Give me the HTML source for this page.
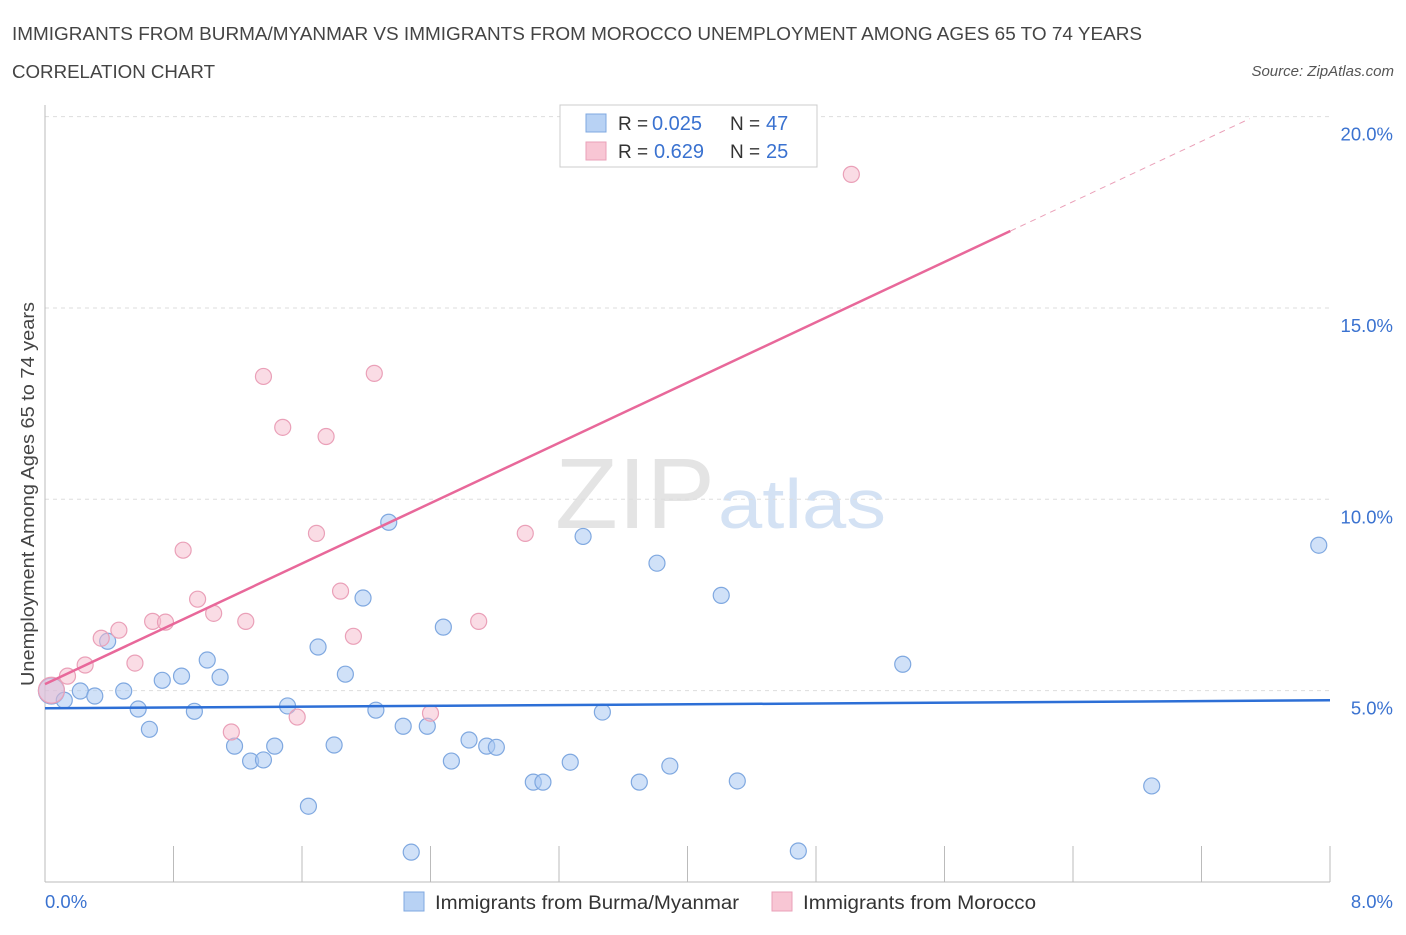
<!DOCTYPE html>
<html><head><meta charset="utf-8"><style>
body{margin:0;background:#fff;font-family:"Liberation Sans",sans-serif;}
svg text{font-family:"Liberation Sans",sans-serif;}
</style></head><body>
<svg id="chart" width="1406" height="930">
<text x="12" y="40" font-size="18.5" fill="#444" textLength="1130" lengthAdjust="spacingAndGlyphs">IMMIGRANTS FROM BURMA/MYANMAR VS IMMIGRANTS FROM MOROCCO UNEMPLOYMENT AMONG AGES 65 TO 74 YEARS</text>
<text x="12" y="78" font-size="18.5" fill="#444" textLength="203" lengthAdjust="spacingAndGlyphs">CORRELATION CHART</text>
<text x="1394" y="76" font-size="15" fill="#555" font-style="italic" text-anchor="end">Source: ZipAtlas.com</text>
<text x="635" y="528" font-size="100" fill="#e4e4e4" font-family="Liberation Serif" text-anchor="middle" textLength="160" lengthAdjust="spacingAndGlyphs">ZIP</text>
<text x="802" y="528" font-size="70" fill="#d4e2f4" text-anchor="middle" textLength="168" lengthAdjust="spacingAndGlyphs">atlas</text>
<g id="grid"></g>
<g id="axes"></g>
<g id="marks"></g>
<text transform="translate(34,494) rotate(-90)" font-size="18" fill="#444" text-anchor="middle" textLength="384" lengthAdjust="spacingAndGlyphs">Unemployment Among Ages 65 to 74 years</text>
<g>
<rect x="560" y="105" width="257" height="62" fill="#fff" stroke="#ccc"/>
<rect x="586" y="114" width="20" height="18" fill="#b8d2f4" stroke="#7fa8e0"/>
<rect x="586" y="142" width="20" height="18" fill="#f8c6d4" stroke="#eaa0b8"/>
<text x="618" y="130" font-size="19" fill="#333">R =</text>
<text x="652" y="130" font-size="20" fill="#3a72d0">0.025</text>
<text x="730" y="130" font-size="19" fill="#333">N =</text>
<text x="766" y="130" font-size="20" fill="#3a72d0">47</text>
<text x="618" y="158" font-size="19" fill="#333">R =</text>
<text x="654" y="158" font-size="20" fill="#3a72d0">0.629</text>
<text x="730" y="158" font-size="19" fill="#333">N =</text>
<text x="766" y="158" font-size="20" fill="#3a72d0">25</text>
</g>
<g>
<rect x="404" y="892" width="20" height="19" fill="#b8d2f4" stroke="#7fa8e0"/>
<text x="435" y="909" font-size="19" fill="#333" textLength="304" lengthAdjust="spacingAndGlyphs">Immigrants from Burma/Myanmar</text>
<rect x="772" y="892" width="20" height="19" fill="#f8c6d4" stroke="#eaa0b8"/>
<text x="803" y="909" font-size="19" fill="#333" textLength="233" lengthAdjust="spacingAndGlyphs">Immigrants from Morocco</text>
</g>
</svg>
<script>
const blueX=[0.04,0.12,0.22,0.31,0.39,0.49,0.58,0.65,0.73,0.85,0.93,1.01,1.09,1.18,1.28,1.36,1.43,1.51,1.64,1.70,1.80,1.87,1.98,2.06,2.14,2.23,2.28,2.38,2.48,2.53,2.64,2.75,2.81,3.04,3.10,3.27,3.35,3.47,3.70,3.81,3.89,4.21,4.31,4.69,5.34,6.89,7.93];
const blueY=[4.99,4.75,4.99,4.86,6.29,4.99,4.52,3.99,5.27,5.38,4.46,5.80,5.35,3.55,3.16,3.19,3.55,4.60,1.98,6.14,3.58,5.43,7.42,4.49,9.40,4.07,0.78,4.07,6.66,3.16,3.71,3.55,3.52,2.61,2.61,3.13,9.03,4.44,2.61,8.33,3.03,7.49,2.64,0.81,5.69,2.51,8.80];
const pinkX=[0.04,0.14,0.25,0.35,0.46,0.56,0.67,0.75,0.86,0.95,1.05,1.16,1.25,1.36,1.48,1.57,1.69,1.75,1.84,1.92,2.05,2.40,2.70,2.99,5.02];
const pinkY=[5.01,5.38,5.67,6.37,6.58,5.72,6.81,6.79,8.67,7.39,7.02,3.92,6.81,13.21,11.88,4.31,9.11,11.64,7.60,6.42,13.29,4.41,6.81,9.11,18.49];
const yTicks=[5,10,15,20];
const yTickLabels=["5.0%","10.0%","15.0%","20.0%"];
const xTickLabels=["0.0%","8.0%"];
const blueTrend=[4.54,0.026];
const pinkTrend=[5.17,1.97];
const NS="http://www.w3.org/2000/svg";
const X=v=>45+v/8*1285, Y=v=>882-v*38.27;
function mk(tag,parent,attrs){const e=document.createElementNS(NS,tag);for(const k in attrs)e.setAttribute(k,attrs[k]);document.getElementById(parent).appendChild(e);return e;}
yTicks.forEach((t,i)=>{
 const g=mk('line','grid',{x1:45,x2:1330,y1:Y(t),y2:Y(t),stroke:'#ddd','stroke-dasharray':'4,4'});
 
 
 const l=mk('text','grid',{x:1393,y:Y(t)+24,'font-size':18.5,fill:'#3a72d0','text-anchor':'end'});
 l.textContent=yTickLabels[i];
 
 
});
const ya=mk('line','axes',{x1:45,x2:45,y1:105,y2:882,stroke:'#bbb'});


const xa=mk('line','axes',{x1:45,x2:1330,y1:882,y2:882,stroke:'#bbb'});


for(let i=0;i<=10;i++){const t=mk('line','axes',{x1:X(i*0.8),x2:X(i*0.8),y1:846,y2:882,stroke:'#bbb'});
 
 }
[[0,45,'start'],[8,1393,'end']].forEach((d,i)=>{const l=mk('text','axes',{x:d[1],y:908,'font-size':18.5,fill:'#3a72d0','text-anchor':d[2]});l.textContent=xTickLabels[i];
 
 });
function dot(x,y,big,fill,stroke,name){const c=mk('circle','marks',{cx:X(x),cy:Y(y),r:big?13:8,fill:fill,stroke:stroke,'stroke-width':1.2});
 
 }
blueX.forEach((x,i)=>dot(x,blueY[i],i==0,'rgba(170,200,242,0.55)','#7fa8e0','burma-point'));
pinkX.forEach((x,i)=>dot(x,pinkY[i],i==0,'rgba(246,186,204,0.5)','#eaa0b8','morocco-point'));
const bl=mk('line','marks',{x1:X(0),x2:X(8),y1:Y(blueTrend[0]),y2:Y(blueTrend[0]+blueTrend[1]*8),stroke:'#2d6fd6','stroke-width':2.5});


const pl=mk('line','marks',{x1:X(0),x2:X(6.01),y1:Y(pinkTrend[0]),y2:Y(pinkTrend[0]+pinkTrend[1]*6.01),stroke:'#e8689a','stroke-width':2.5});


const pd=mk('line','marks',{x1:X(6.01),x2:X(7.5),y1:Y(pinkTrend[0]+pinkTrend[1]*6.01),y2:Y(pinkTrend[0]+pinkTrend[1]*7.5),stroke:'#eaa0b8','stroke-width':1,'stroke-dasharray':'6,5'});


</script>
</body></html>
